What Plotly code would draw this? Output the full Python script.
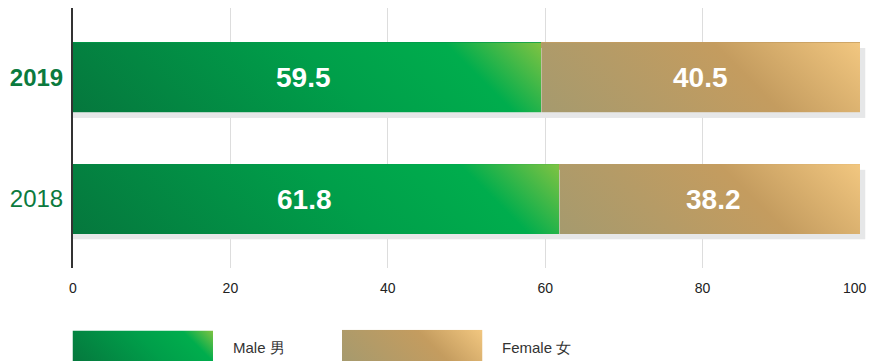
import base64
import plotly.graph_objects as go

# ---- data -------------------------------------------------------------
years = ["2018", "2019"]
year_labels = ["2018", "<b>2019</b>"]
male = [61.8, 59.5]
female = [38.2, 40.5]
x_ticks = [0, 20, 40, 60, 80, 100]
x_tick_labels = ["0", "20", "40", "60", "80", "100"]

# ---- styling -----------------------------------------------------------
W, H = 870, 361
M_L, M_R, M_T, M_B = 73, 10, 8, 93
X_RANGE = [0, 100]
Y_RANGE = [-0.5665, 1.571]
BAR_W = 0.575
SHADOW_PX = 5.5
TICK_LABEL_Y_PX = 288
# horizontal nudges (px) for the value labels: (male, female) per year
LABEL_NUDGE = {"2018": (-12, 4), "2019": (-4, 0)}

MALE_STOPS = [(0.0, "#05773d"), (0.55, "#009f4a"), (0.82, "#00ad4d"), (1.0, "#80c342")]
FEMALE_STOPS = [(0.0, "#a59a6e"), (0.62, "#c49c5f"), (1.0, "#f2c780")]
MALE_SOLID = "#009a48"
FEMALE_SOLID = "#c49c5f"
SHADOW = "#e6e7e8"
TEXT_GREEN = "#0b7a3e"
TICK_COLOR = "#222222"
FONT = "Liberation Sans, Arial, sans-serif"

plot_w = W - M_L - M_R
plot_h = H - M_T - M_B
px_x = plot_w / (X_RANGE[1] - X_RANGE[0])
px_y = plot_h / (Y_RANGE[1] - Y_RANGE[0])


def svg_uri(w, h, stops=None, color=None):
    """Rectangle filled with a 45-degree gradient (or a flat colour) as an SVG data URI."""
    w = max(w, 1.0)
    h = max(h, 1.0)
    if stops:
        cx, cy, q = w / 2, h / 2, (w + h) / 4
        stop_xml = "".join(f'<stop offset="{o}" stop-color="{c}"/>' for o, c in stops)
        defs = (
            f'<defs><linearGradient id="g" gradientUnits="userSpaceOnUse" '
            f'x1="{cx - q:.2f}" y1="{cy + q:.2f}" x2="{cx + q:.2f}" y2="{cy - q:.2f}">'
            f"{stop_xml}</linearGradient></defs>"
        )
        fill = "url(#g)"
    else:
        defs, fill = "", color
    svg = (
        f'<svg xmlns="http://www.w3.org/2000/svg" width="{w:.2f}" height="{h:.2f}" '
        f'viewBox="0 0 {w:.2f} {h:.2f}" preserveAspectRatio="none">{defs}'
        f'<rect width="{w:.2f}" height="{h:.2f}" fill="{fill}"/></svg>'
    )
    return "data:image/svg+xml;base64," + base64.b64encode(svg.encode()).decode()


def x_to_px(v):
    return M_L + (v - X_RANGE[0]) * px_x


def y_to_px(v):
    return M_T + (Y_RANGE[1] - v) * px_y


def to_paper_x(px):
    return (px - M_L) / plot_w


def to_paper_y(py):
    return (H - M_B - py) / plot_h


pos = list(range(len(years)))
totals = [m + f for m, f in zip(male, female)]

fig = go.Figure()
fig.add_trace(go.Bar(
    y=pos, x=male, base=0, orientation="h", width=BAR_W, name="Male 男",
    marker=dict(color=MALE_SOLID, line=dict(width=0)), showlegend=False,
))
fig.add_trace(go.Bar(
    y=pos, x=female, base=male, orientation="h", width=BAR_W, name="Female 女",
    marker=dict(color=FEMALE_SOLID, line=dict(width=0)), showlegend=False,
))

images = []
annotations = []

# drop shadow offset down/right behind each stacked bar (paper-referenced so it
# can run past the right edge of the plot area)
for p, t in zip(pos, totals):
    left = x_to_px(0)
    top = y_to_px(p + BAR_W / 2) + SHADOW_PX
    w = x_to_px(t) - left + SHADOW_PX
    h = BAR_W * px_y
    images.append(dict(
        source=svg_uri(w, h, color=SHADOW),
        xref="paper", yref="paper", x=to_paper_x(left), y=to_paper_y(top),
        sizex=w / plot_w, sizey=h / plot_h, sizing="stretch",
        xanchor="left", yanchor="top", layer="above",
    ))

# gradient fills for the bar segments plus their value labels
for yr, p, m, f in zip(years, pos, male, female):
    segs = ((0, m, MALE_STOPS), (m, f, FEMALE_STOPS))
    for (base, val, stops), nudge in zip(segs, LABEL_NUDGE[yr]):
        images.append(dict(
            source=svg_uri(val * px_x, BAR_W * px_y, stops=stops),
            xref="x", yref="y", x=base, y=p + BAR_W / 2,
            sizex=val, sizey=BAR_W, sizing="stretch",
            xanchor="left", yanchor="top", layer="above",
        ))
        annotations.append(dict(
            x=base + val / 2, y=p, xref="x", yref="y", text=f"<b>{val}</b>",
            xshift=nudge, showarrow=False,
            font=dict(family=FONT, size=28, color="white"),
        ))

# the last x tick label sits flush against the right edge of the figure
annotations.append(dict(
    x=x_ticks[-1], y=to_paper_y(TICK_LABEL_Y_PX), xref="x", yref="paper",
    xanchor="right", yanchor="middle", xshift=9, text=x_tick_labels[-1],
    showarrow=False, font=dict(family=FONT, size=14, color=TICK_COLOR),
))

# legend swatches and captions below the plot
legend_items = [
    ("Male 男", MALE_STOPS, 72.5, 330.5, 231),
    ("Female 女", FEMALE_STOPS, 342, 329.8, 500),
]
for label, stops, sx, sy, tx in legend_items:
    images.append(dict(
        source=svg_uri(140.5, 33, stops=stops),
        xref="paper", yref="paper", x=to_paper_x(sx), y=to_paper_y(sy),
        sizex=140.5 / plot_w, sizey=33 / plot_h, sizing="stretch",
        xanchor="left", yanchor="top", layer="above",
    ))
    annotations.append(dict(
        x=to_paper_x(tx), y=to_paper_y(347), xref="paper", yref="paper",
        xanchor="left", yanchor="middle", text=label, showarrow=False,
        font=dict(family=FONT, size=15, color="#333333"),
    ))

fig.update_layout(
    width=W, height=H,
    margin=dict(l=M_L, r=M_R, t=M_T, b=M_B, pad=0, autoexpand=False),
    paper_bgcolor="white", plot_bgcolor="white",
    barmode="overlay", bargap=0,
    showlegend=False,
    images=images, annotations=annotations,
    font=dict(family=FONT),
)
fig.update_xaxes(
    range=X_RANGE, tickvals=x_ticks, ticktext=x_tick_labels[:-1] + [""],
    showgrid=True, gridcolor="#dddddd",
    gridwidth=1, zeroline=False, showline=False, ticks="",
    tickfont=dict(family=FONT, size=14, color=TICK_COLOR),
    ticklabelstandoff=10, automargin=False, fixedrange=True,
)
fig.update_yaxes(
    range=Y_RANGE, tickvals=pos, ticktext=year_labels, showgrid=False,
    zeroline=False, showline=True, linecolor="#333333", linewidth=2,
    ticks="", tickfont=dict(family=FONT, size=24, color=TEXT_GREEN),
    ticklabelstandoff=3, automargin=False, fixedrange=True,
)

fig.write_html("out.html")
